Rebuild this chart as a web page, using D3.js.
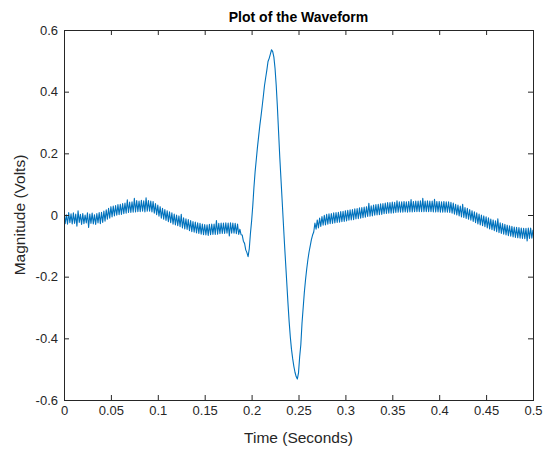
<!DOCTYPE html>
<html>
<head>
<meta charset="utf-8">
<script src="https://cdn.jsdelivr.net/npm/d3@7/dist/d3.min.js"></script>
<style>
  body { margin: 0; background: #fff; }
  text { font-family: "Liberation Sans", Arial, Helvetica, sans-serif; }
</style>
</head>
<body>
<svg id="chart" width="547" height="449"></svg>
<script>
// Sampled waveform: 401 samples at 800 Hz covering 0 .. 0.5 s
const sampleRate = 800;
const magnitude = [
  0.006, -0.028, 0.001, -0.030, 0.008, -0.025, 0.004, -0.029,
  0.007, -0.027, 0.003, -0.036, 0.014, -0.024, 0.002, -0.031,
  0.005, -0.028, 0.000, -0.026, 0.007, -0.040, 0.003, -0.027,
  0.006, -0.029, 0.001, -0.031, 0.005, -0.026, 0.008, -0.028,
  0.009, -0.024, 0.013, -0.020, 0.017, -0.014, 0.022, -0.010,
  0.027, -0.006, 0.029, -0.003, 0.031, -0.001, 0.034, 0.001,
  0.035, 0.002, 0.037, 0.004, 0.039, 0.006, 0.049, 0.008,
  0.042, 0.008, 0.043, 0.009, 0.054, 0.010, 0.047, 0.011,
  0.045, 0.011, 0.048, 0.012, 0.046, 0.010, 0.056, 0.012,
  0.047, 0.012, 0.045, 0.010, 0.044, 0.006, 0.037, 0.001,
  0.032, -0.004, 0.027, -0.010, 0.022, -0.014, 0.018, -0.018,
  0.014, -0.022, 0.010, -0.025, 0.007, -0.030, 0.003, -0.032,
  0.000, -0.035, -0.003, -0.038, 0.002, -0.042, -0.009, -0.045,
  -0.012, -0.047, -0.015, -0.051, -0.018, -0.054, -0.021, -0.056,
  -0.023, -0.058, -0.025, -0.060, -0.027, -0.062, -0.029, -0.064,
  -0.031, -0.065, -0.032, -0.066, -0.030, -0.064, -0.029, -0.063,
  -0.029, -0.063, -0.018, -0.062, -0.027, -0.061, -0.026, -0.060,
  -0.026, -0.060, -0.025, -0.059, -0.026, -0.068, -0.025, -0.059,
  -0.026, -0.059, -0.027, -0.061, -0.029, -0.063,
  -0.046, -0.064, -0.065, -0.085, -0.092, -0.113, -0.122, -0.135,
  -0.110, -0.060, -0.020, 0.030, 0.090, 0.140, 0.180, 0.220,
  0.255, 0.290, 0.320, 0.352, 0.385, 0.420, 0.445, 0.470,
  0.498, 0.508, 0.522, 0.536, 0.530, 0.512, 0.475, 0.420,
  0.350, 0.270, 0.190, 0.120, 0.050, -0.020, -0.090, -0.155,
  -0.220, -0.285, -0.345, -0.395, -0.435, -0.465, -0.490, -0.510,
  -0.524, -0.532, -0.512, -0.460, -0.420, -0.350, -0.300, -0.250,
  -0.210, -0.175, -0.145, -0.120, -0.100, -0.080, -0.065, -0.055,
  -0.026, -0.046, -0.016, -0.042, -0.010, -0.037, -0.005, -0.033,
  -0.001, -0.032, 0.002, -0.030, 0.004, -0.028, 0.005, -0.027,
  0.007, -0.026, 0.008, -0.024, 0.009, -0.023, 0.011, -0.022,
  0.012, -0.021, 0.014, -0.019, 0.015, -0.017, 0.017, -0.016,
  0.018, -0.015, 0.020, -0.013, 0.021, -0.012, 0.023, -0.010,
  0.024, -0.009, 0.026, -0.007, 0.027, -0.005, 0.038, -0.004,
  0.030, -0.003, 0.032, -0.001, 0.034, 0.000, 0.035, 0.001,
  0.036, 0.002, 0.037, 0.004, 0.039, 0.005, 0.040, 0.006,
  0.040, 0.006, 0.042, 0.007, 0.041, 0.008, 0.046, 0.009,
  0.043, 0.009, 0.043, 0.009, 0.044, 0.010, 0.043, 0.009,
  0.044, 0.010, 0.050, 0.010, 0.044, 0.011, 0.045, 0.011,
  0.045, 0.011, 0.046, 0.011, 0.054, 0.011, 0.045, 0.011,
  0.046, 0.011, 0.045, 0.011, 0.045, 0.010, 0.051, 0.010,
  0.044, 0.010, 0.044, 0.009, 0.043, 0.009, 0.044, 0.009,
  0.043, 0.009, 0.043, 0.008, 0.041, 0.006, 0.039, 0.003,
  0.035, 0.000, 0.032, -0.003, 0.029, -0.006, 0.035, -0.008,
  0.024, -0.011, 0.022, -0.014, 0.018, -0.017, 0.014, -0.021,
  0.010, -0.025, 0.007, -0.029, 0.003, -0.032, 0.000, -0.035,
  -0.003, -0.038, -0.006, -0.042, -0.009, -0.045, -0.013, -0.048,
  -0.016, -0.051, -0.019, -0.054, -0.012, -0.057, -0.025, -0.060,
  -0.028, -0.062, -0.030, -0.065, -0.033, -0.067, -0.035, -0.069,
  -0.037, -0.071, -0.039, -0.073, -0.040, -0.074, -0.041, -0.075,
  -0.042, -0.076, -0.043, -0.077, -0.043, -0.084, -0.042, -0.076,
  -0.042, -0.075, -0.048
];

const xTicks = [0, 0.05, 0.1, 0.15, 0.2, 0.25, 0.3, 0.35, 0.4, 0.45, 0.5];
const xTickLabels = ["0", "0.05", "0.1", "0.15", "0.2", "0.25", "0.3", "0.35", "0.4", "0.45", "0.5"];
const yTicks = [-0.6, -0.4, -0.2, 0, 0.2, 0.4, 0.6];
const yTickLabels = ["-0.6", "-0.4", "-0.2", "0", "0.2", "0.4", "0.6"];

const titleText = "Plot of the Waveform";
const xLabelText = "Time (Seconds)";
const yLabelText = "Magnitude (Volts)";

const plot = { left: 64, right: 533, top: 30, bottom: 400 };
const axisColor = "#262626";
const lineColor = "#0072BD";

const svg = d3.select("#chart");

const x = d3.scaleLinear().domain([0, 0.5]).range([plot.left, plot.right]);
const y = d3.scaleLinear().domain([-0.6, 0.6]).range([plot.bottom, plot.top]);

// waveform
const line = d3.line()
  .x((d, i) => x(i / sampleRate))
  .y(d => y(d));

svg.append("defs").append("clipPath").attr("id", "plot-clip")
  .append("rect")
  .attr("x", plot.left).attr("y", plot.top)
  .attr("width", plot.right - plot.left).attr("height", plot.bottom - plot.top);

svg.append("path")
  .datum(magnitude)
  .attr("clip-path", "url(#plot-clip)")
  .attr("fill", "none")
  .attr("stroke", lineColor)
  .attr("stroke-width", 1.1)
  .attr("stroke-linejoin", "round")
  .attr("d", line);

// axes with inward ticks on all four sides
const tick = 5;
function styleAxis(g) {
  g.selectAll("path.domain").attr("stroke", axisColor);
  g.selectAll(".tick line").attr("stroke", axisColor);
  g.selectAll(".tick text").attr("fill", axisColor).attr("font-size", 13);
}

svg.append("g")
  .attr("transform", `translate(0,${plot.bottom})`)
  .call(d3.axisBottom(x).tickValues(xTicks).tickFormat((d, i) => xTickLabels[i])
    .tickSizeInner(-tick).tickSizeOuter(0).tickPadding(6))
  .call(styleAxis);

svg.append("g")
  .attr("transform", `translate(0,${plot.top})`)
  .call(d3.axisTop(x).tickValues(xTicks).tickFormat("")
    .tickSizeInner(-tick).tickSizeOuter(0))
  .call(styleAxis);

svg.append("g")
  .attr("transform", `translate(${plot.left},0)`)
  .call(d3.axisLeft(y).tickValues(yTicks).tickFormat((d, i) => yTickLabels[i])
    .tickSizeInner(-tick).tickSizeOuter(0).tickPadding(6))
  .call(styleAxis);

svg.append("g")
  .attr("transform", `translate(${plot.right},0)`)
  .call(d3.axisRight(y).tickValues(yTicks).tickFormat("")
    .tickSizeInner(-tick).tickSizeOuter(0))
  .call(styleAxis);

svg.selectAll("path.domain").attr("shape-rendering", "crispEdges");

// titles
svg.append("text")
  .attr("x", (plot.left + plot.right) / 2).attr("y", 22)
  .attr("text-anchor", "middle")
  .attr("font-size", 14).attr("font-weight", "bold").attr("fill", "#000")
  .text(titleText);

svg.append("text")
  .attr("x", (plot.left + plot.right) / 2).attr("y", 443)
  .attr("text-anchor", "middle")
  .attr("font-size", 15.5).attr("fill", axisColor)
  .text(xLabelText);

svg.append("text")
  .attr("transform", `translate(25,${(plot.top + plot.bottom) / 2}) rotate(-90)`)
  .attr("text-anchor", "middle")
  .attr("font-size", 15.5).attr("fill", axisColor)
  .text(yLabelText);
</script>
</body>
</html>
